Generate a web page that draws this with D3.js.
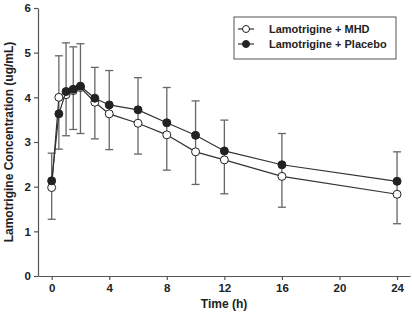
<!DOCTYPE html>
<html>
<head>
<meta charset="utf-8">
<script src="https://cdn.jsdelivr.net/npm/d3@7"></script>
<style>
  body { margin: 0; background: #fff; }
  text { font-family: "Liberation Sans", Arial, sans-serif; font-weight: bold; fill: #222; }
</style>
</head>
<body>
<div id="chart"></div>
<script>
// time points (h)
const times = [0, 0.5, 1, 1.5, 2, 3, 4, 6, 8, 10, 12, 16, 24];
// mean concentrations
const mhd     = [1.98, 4.00, 4.06, 4.15, 4.22, 3.89, 3.63, 3.42, 3.16, 2.78, 2.60, 2.23, 1.83];
const placebo = [2.13, 3.63, 4.13, 4.18, 4.25, 3.98, 3.83, 3.72, 3.43, 3.15, 2.80, 2.49, 2.12];
// error bar ends
const errHigh = [2.75, 4.93, 5.22, 5.13, 5.20, 4.67, 4.60, 4.44, 4.22, 3.92, 3.49, 3.19, 2.78];
const errLow  = [1.27, 2.84, 3.14, 3.28, 3.19, 3.07, 2.83, 2.73, 2.37, 2.05, 1.84, 1.54, 1.17];

const xTicks = [0, 4, 8, 12, 16, 20, 24];
const yTicks = [0, 1, 2, 3, 4, 5, 6];

const width = 412, height = 313;
const margin = {left: 38, top: 8, right: 2, bottom: 37};

const svg = d3.select("#chart")
  .append("svg")
  .attr("width", width)
  .attr("height", height);

// scales
const x = d3.scaleLinear()
  .domain([-0.95, 24.9])
  .range([margin.left, width - margin.right]);

const y = d3.scaleLinear()
  .domain([0, 6])
  .range([height - margin.bottom, margin.top]);

// axes
const xAxis = svg.append("g")
  .attr("transform", `translate(0,${height - margin.bottom})`)
  .call(d3.axisBottom(x).tickValues(xTicks).tickFormat(d3.format("d")).tickSize(4).tickPadding(4).tickSizeOuter(0));

const yAxis = svg.append("g")
  .attr("transform", `translate(${margin.left},0)`)
  .call(d3.axisLeft(y).tickValues(yTicks).tickFormat(d3.format("d")).tickSize(4).tickPadding(3).tickSizeOuter(0));

[xAxis, yAxis].forEach(function (g) {
  g.select(".domain").attr("stroke", "#555").attr("stroke-width", 1.2);
  g.selectAll(".tick line").attr("stroke", "#555").attr("stroke-width", 1.2);
  g.selectAll(".tick text").style("font-size", "11.5px").attr("fill", "#222");
});

// axis titles
svg.append("text")
  .attr("x", (margin.left + width - margin.right) / 2)
  .attr("y", 308)
  .attr("text-anchor", "middle")
  .style("font-size", "12px")
  .text("Time (h)");

svg.append("text")
  .attr("transform", `translate(13,${(margin.top + height - margin.bottom) / 2}) rotate(-90)`)
  .attr("text-anchor", "middle")
  .style("font-size", "12px")
  .text("Lamotrigine Concentration (ug/mL)");

// error bars
const capHalf = 4;
const errGroup = svg.append("g").attr("stroke", "#666").attr("stroke-width", 1.3);
times.forEach(function (t, i) {
  errGroup.append("line")
    .attr("x1", x(t)).attr("x2", x(t))
    .attr("y1", y(errLow[i])).attr("y2", y(errHigh[i]));
  errGroup.append("line")
    .attr("x1", x(t) - capHalf).attr("x2", x(t) + capHalf)
    .attr("y1", y(errHigh[i])).attr("y2", y(errHigh[i]));
  errGroup.append("line")
    .attr("x1", x(t) - capHalf).attr("x2", x(t) + capHalf)
    .attr("y1", y(errLow[i])).attr("y2", y(errLow[i]));
});

const line = d3.line()
  .x((d) => x(d[0]))
  .y((d) => y(d[1]));

const series = [
  {name: "Lamotrigine + MHD", values: mhd, fill: "#fff"},
  {name: "Lamotrigine + Placebo", values: placebo, fill: "#222"}
];

series.forEach(function (s) {
  const pts = times.map((t, i) => [t, s.values[i]]);
  svg.append("path")
    .datum(pts)
    .attr("fill", "none")
    .attr("stroke", "#333")
    .attr("stroke-width", 1.2)
    .attr("d", line);
  svg.append("g")
    .selectAll("circle")
    .data(pts)
    .enter()
    .append("circle")
    .attr("cx", (d) => x(d[0]))
    .attr("cy", (d) => y(d[1]))
    .attr("r", 4)
    .attr("fill", s.fill)
    .attr("stroke", "#222")
    .attr("stroke-width", 1);
});

// legend
const legend = svg.append("g").attr("transform", "translate(234,17)");
legend.append("rect")
  .attr("width", 162)
  .attr("height", 42)
  .attr("fill", "#fff")
  .attr("stroke", "#555")
  .attr("stroke-width", 1);

series.forEach(function (s, i) {
  const ly = 12 + i * 15;
  legend.append("line")
    .attr("x1", 4).attr("x2", 20)
    .attr("y1", ly).attr("y2", ly)
    .attr("stroke", "#333").attr("stroke-width", 1.2);
  legend.append("circle")
    .attr("cx", 12).attr("cy", ly)
    .attr("r", 3.5)
    .attr("fill", s.fill)
    .attr("stroke", "#222");
  legend.append("text")
    .attr("x", 35)
    .attr("y", ly + 4)
    .style("font-size", "11px")
    .text(s.name);
});
</script>
</body>
</html>
